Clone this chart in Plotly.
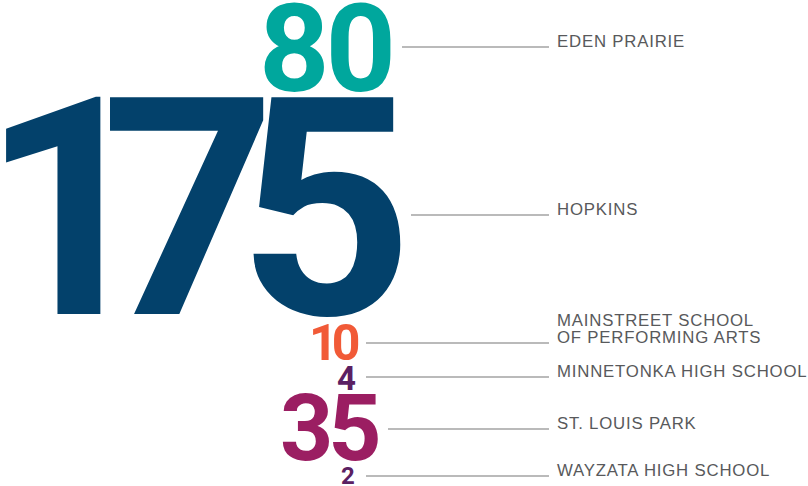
import plotly.graph_objects as go

# ---- data ----
schools = [
    "EDEN PRAIRIE",
    "HOPKINS",
    "MAINSTREET SCHOOL<br>OF PERFORMING ARTS",
    "MINNETONKA HIGH SCHOOL",
    "ST. LOUIS PARK",
    "WAYZATA HIGH SCHOOL",
]
counts = [80, 175, 10, 4, 35, 2]

# ---- styling / layout (not data) ----
colors = ["#00A79D", "#03416B", "#F15A37", "#5B2062", "#9B1E62", "#5B2062"]
num_font_px = [123, 305, 50, 33, 93, 24]
num_tracking = [[-4, 0], [-55, -38, 0], [-6, 0], None, [-5, 0], None]
num_anchor = ["right", "left", "right", "right", "right", "right"]
num_x = [397, 0, 361, 357, 383, 356]
num_xshift = [0, -20.5, 0, 0, 0, 0]
num_center_y = [47, 204, 342.5, 377.5, 426.5, 476]
line_y = [47, 215, 343, 377, 429, 476]
line_x0 = [402, 411, 366, 366, 388, 366]
line_x1 = 549
label_x = 556
label_px = 16.8
label_tracking = 0.8
label_line_gap = 17
label_color = "#58595B"
line_color = "#A3A3A3"
NUM_FONT = "Roboto, Liberation Sans, Arial, sans-serif"
LAB_FONT = "Liberation Sans, Arial, sans-serif"


def tracked(s, spacing):
    if spacing is None:
        return s
    return "".join(f'<span style="letter-spacing:{sp}px">{ch}</span>'
                   for ch, sp in zip(s, spacing))


fig = go.Figure()
annotations = []
shapes = []
for i, (name, val) in enumerate(zip(schools, counts)):
    size = num_font_px[i]
    annotations.append(dict(
        x=num_x[i], xshift=num_xshift[i],
        y=num_center_y[i] + 0.0167 * size, xref="x", yref="y",
        text=tracked(str(val), num_tracking[i]), showarrow=False,
        xanchor=num_anchor[i], yanchor="middle",
        font=dict(family=NUM_FONT, size=size, color=colors[i], weight="bold"),
        borderpad=0,
    ))
    shapes.append(dict(type="line", xref="x", yref="y",
                       x0=line_x0[i], x1=line_x1, y0=line_y[i], y1=line_y[i],
                       line=dict(color=line_color, width=1.3)))
    lines = name.split("<br>")
    n = len(lines)
    for k, ln in enumerate(lines):
        from_bottom = n - 1 - k
        annotations.append(dict(
            x=label_x, y=line_y[i] - 0.35 * label_px - from_bottom * label_line_gap,
            xref="x", yref="y",
            text=f'<span style="letter-spacing:{label_tracking}px">{ln}</span>',
            showarrow=False, xanchor="left", yanchor="middle",
            font=dict(family=LAB_FONT, size=label_px, color=label_color),
            borderpad=0,
        ))

fig.update_layout(
    width=808, height=486, autosize=False,
    margin=dict(l=0, r=0, t=0, b=0),
    paper_bgcolor="white", plot_bgcolor="white",
    xaxis=dict(range=[0, 808], visible=False, fixedrange=True),
    yaxis=dict(range=[486, 0], visible=False, fixedrange=True),
    annotations=annotations, shapes=shapes, showlegend=False,
)
fig.write_html(
    "out.html",
    config={"displayModeBar": False},
    post_script="document.body.style.margin='0';document.body.style.overflow='hidden';",
)
